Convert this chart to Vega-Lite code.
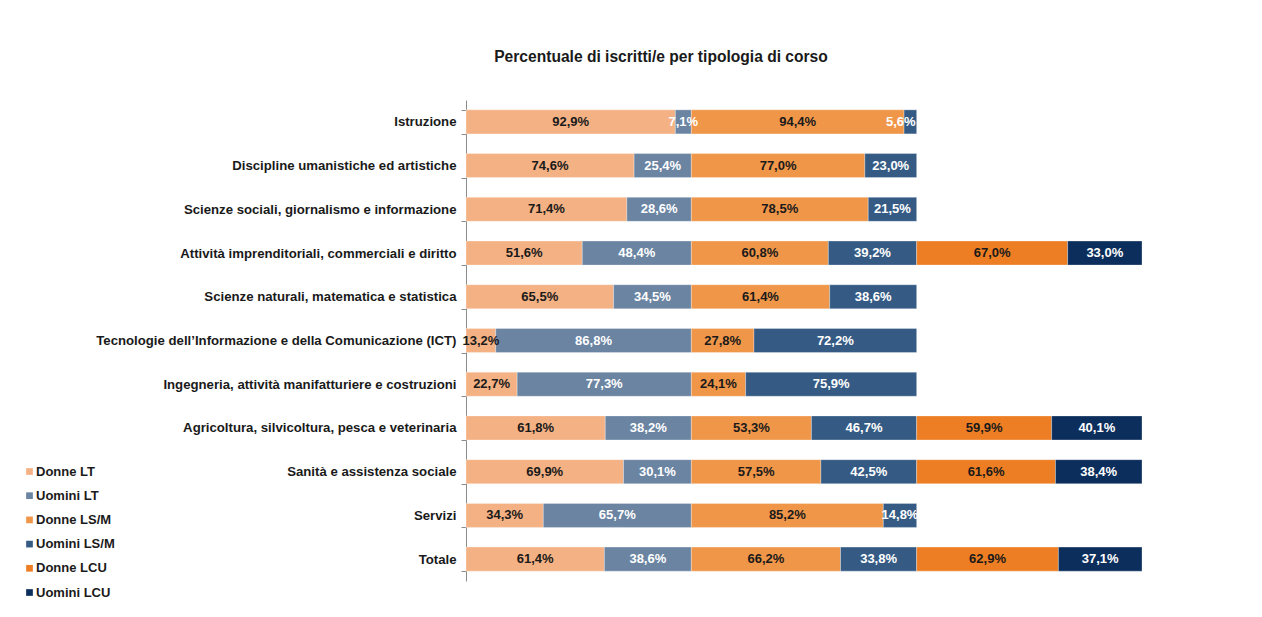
{
  "$schema": "https://vega.github.io/schema/vega-lite/v6.json",
  "width": 676,
  "height": 481,
  "autosize": {"type": "none"},
  "padding": {"left": 466, "top": 100, "right": 120, "bottom": 36},
  "background": "white",
  "config": {"view": {"stroke": null}},
  "title": {
    "text": "Percentuale di iscritti/e per tipologia di corso",
    "font": "Liberation Sans",
    "fontSize": 15.6,
    "fontWeight": "bold",
    "color": "#1a1a1a",
    "anchor": "middle",
    "frame": "group",
    "dx": -143,
    "offset": 27
  },
  "data": {
    "values": [
      {"corso": "Istruzione", "serie": "Donne LT", "valore": 92.9},
      {"corso": "Istruzione", "serie": "Uomini LT", "valore": 7.1},
      {"corso": "Istruzione", "serie": "Donne LS/M", "valore": 94.4},
      {"corso": "Istruzione", "serie": "Uomini LS/M", "valore": 5.6},
      {"corso": "Discipline umanistiche ed artistiche", "serie": "Donne LT", "valore": 74.6},
      {"corso": "Discipline umanistiche ed artistiche", "serie": "Uomini LT", "valore": 25.4},
      {"corso": "Discipline umanistiche ed artistiche", "serie": "Donne LS/M", "valore": 77.0},
      {"corso": "Discipline umanistiche ed artistiche", "serie": "Uomini LS/M", "valore": 23.0},
      {"corso": "Scienze sociali, giornalismo e informazione", "serie": "Donne LT", "valore": 71.4},
      {"corso": "Scienze sociali, giornalismo e informazione", "serie": "Uomini LT", "valore": 28.6},
      {"corso": "Scienze sociali, giornalismo e informazione", "serie": "Donne LS/M", "valore": 78.5},
      {"corso": "Scienze sociali, giornalismo e informazione", "serie": "Uomini LS/M", "valore": 21.5},
      {"corso": "Attività imprenditoriali, commerciali e diritto", "serie": "Donne LT", "valore": 51.6},
      {"corso": "Attività imprenditoriali, commerciali e diritto", "serie": "Uomini LT", "valore": 48.4},
      {"corso": "Attività imprenditoriali, commerciali e diritto", "serie": "Donne LS/M", "valore": 60.8},
      {"corso": "Attività imprenditoriali, commerciali e diritto", "serie": "Uomini LS/M", "valore": 39.2},
      {"corso": "Attività imprenditoriali, commerciali e diritto", "serie": "Donne LCU", "valore": 67.0},
      {"corso": "Attività imprenditoriali, commerciali e diritto", "serie": "Uomini LCU", "valore": 33.0},
      {"corso": "Scienze naturali, matematica e statistica", "serie": "Donne LT", "valore": 65.5},
      {"corso": "Scienze naturali, matematica e statistica", "serie": "Uomini LT", "valore": 34.5},
      {"corso": "Scienze naturali, matematica e statistica", "serie": "Donne LS/M", "valore": 61.4},
      {"corso": "Scienze naturali, matematica e statistica", "serie": "Uomini LS/M", "valore": 38.6},
      {"corso": "Tecnologie dell’Informazione e della Comunicazione (ICT)", "serie": "Donne LT", "valore": 13.2},
      {"corso": "Tecnologie dell’Informazione e della Comunicazione (ICT)", "serie": "Uomini LT", "valore": 86.8},
      {"corso": "Tecnologie dell’Informazione e della Comunicazione (ICT)", "serie": "Donne LS/M", "valore": 27.8},
      {"corso": "Tecnologie dell’Informazione e della Comunicazione (ICT)", "serie": "Uomini LS/M", "valore": 72.2},
      {"corso": "Ingegneria, attività manifatturiere e costruzioni", "serie": "Donne LT", "valore": 22.7},
      {"corso": "Ingegneria, attività manifatturiere e costruzioni", "serie": "Uomini LT", "valore": 77.3},
      {"corso": "Ingegneria, attività manifatturiere e costruzioni", "serie": "Donne LS/M", "valore": 24.1},
      {"corso": "Ingegneria, attività manifatturiere e costruzioni", "serie": "Uomini LS/M", "valore": 75.9},
      {"corso": "Agricoltura, silvicoltura, pesca e veterinaria", "serie": "Donne LT", "valore": 61.8},
      {"corso": "Agricoltura, silvicoltura, pesca e veterinaria", "serie": "Uomini LT", "valore": 38.2},
      {"corso": "Agricoltura, silvicoltura, pesca e veterinaria", "serie": "Donne LS/M", "valore": 53.3},
      {"corso": "Agricoltura, silvicoltura, pesca e veterinaria", "serie": "Uomini LS/M", "valore": 46.7},
      {"corso": "Agricoltura, silvicoltura, pesca e veterinaria", "serie": "Donne LCU", "valore": 59.9},
      {"corso": "Agricoltura, silvicoltura, pesca e veterinaria", "serie": "Uomini LCU", "valore": 40.1},
      {"corso": "Sanità e assistenza sociale", "serie": "Donne LT", "valore": 69.9},
      {"corso": "Sanità e assistenza sociale", "serie": "Uomini LT", "valore": 30.1},
      {"corso": "Sanità e assistenza sociale", "serie": "Donne LS/M", "valore": 57.5},
      {"corso": "Sanità e assistenza sociale", "serie": "Uomini LS/M", "valore": 42.5},
      {"corso": "Sanità e assistenza sociale", "serie": "Donne LCU", "valore": 61.6},
      {"corso": "Sanità e assistenza sociale", "serie": "Uomini LCU", "valore": 38.4},
      {"corso": "Servizi", "serie": "Donne LT", "valore": 34.3},
      {"corso": "Servizi", "serie": "Uomini LT", "valore": 65.7},
      {"corso": "Servizi", "serie": "Donne LS/M", "valore": 85.2},
      {"corso": "Servizi", "serie": "Uomini LS/M", "valore": 14.8},
      {"corso": "Totale", "serie": "Donne LT", "valore": 61.4},
      {"corso": "Totale", "serie": "Uomini LT", "valore": 38.6},
      {"corso": "Totale", "serie": "Donne LS/M", "valore": 66.2},
      {"corso": "Totale", "serie": "Uomini LS/M", "valore": 33.8},
      {"corso": "Totale", "serie": "Donne LCU", "valore": 62.9},
      {"corso": "Totale", "serie": "Uomini LCU", "valore": 37.1}
    ]
  },
  "transform": [
    {"calculate": "indexof(['Donne LT','Uomini LT','Donne LS/M','Uomini LS/M','Donne LCU','Uomini LCU'], datum.serie)", "as": "ord"},
    {"stack": "valore", "groupby": ["corso"], "sort": [{"field": "ord", "order": "ascending"}], "as": ["x0", "x1"]},
    {"calculate": "(datum.x0 + datum.x1) / 2", "as": "xm"},
    {"calculate": "replace(format(datum.valore, '.1f'), '.', ',') + '%'", "as": "lab"}
  ],
  "encoding": {
    "y": {
      "field": "corso",
      "type": "nominal",
      "sort": [
        "Istruzione",
        "Discipline umanistiche ed artistiche",
        "Scienze sociali, giornalismo e informazione",
        "Attività imprenditoriali, commerciali e diritto",
        "Scienze naturali, matematica e statistica",
        "Tecnologie dell’Informazione e della Comunicazione (ICT)",
        "Ingegneria, attività manifatturiere e costruzioni",
        "Agricoltura, silvicoltura, pesca e veterinaria",
        "Sanità e assistenza sociale",
        "Servizi",
        "Totale"
      ],
      "scale": {"paddingInner": 0.45, "paddingOuter": 0.225},
      "axis": {
        "title": null,
        "domainColor": "#8c8c8c",
        "tickColor": "#8c8c8c",
        "tickBand": "extent",
        "tickSize": 5,
        "labelFont": "Liberation Sans",
        "labelFontSize": 13.2,
        "labelFontWeight": "bold",
        "labelColor": "#1a1a1a",
        "labelPadding": 5,
        "labelLimit": 500
      }
    }
  },
  "layer": [
    {
      "mark": {"type": "bar", "stroke": "#ffffff", "strokeOpacity": 0.5, "strokeWidth": 0.6},
      "encoding": {
        "x": {"field": "x0", "type": "quantitative", "scale": {"domain": [0, 300], "nice": false}, "axis": null},
        "x2": {"field": "x1"},
        "color": {
          "field": "serie",
          "type": "nominal",
          "scale": {
            "domain": ["Donne LT", "Uomini LT", "Donne LS/M", "Uomini LS/M", "Donne LCU", "Uomini LCU"],
            "range": ["#F4B183", "#6A84A2", "#F09649", "#355B85", "#EE7E23", "#0C2E5C"]
          },
          "legend": {
            "title": null,
            "orient": "none",
            "legendX": -443,
            "legendY": 365,
            "symbolType": "square",
            "symbolSize": 45,
            "symbolStrokeWidth": 0,
            "labelFont": "Liberation Sans",
            "labelFontSize": 13,
            "labelFontWeight": "bold",
            "labelColor": "#1a1a1a",
            "labelOffset": 0,
            "rowPadding": 10.2
          }
        }
      }
    },
    {
      "transform": [{"filter": "datum.valore >= 6"}],
      "mark": {"type": "text", "font": "Liberation Sans", "fontSize": 13, "fontWeight": "bold"},
      "encoding": {
        "x": {"field": "xm", "type": "quantitative"},
        "text": {"field": "lab"},
        "color": {
          "condition": {"test": "indexof(datum.serie, 'Donne') == 0", "value": "#1a1a1a"},
          "value": "#ffffff"
        }
      }
    },
    {
      "transform": [{"filter": "datum.valore < 6"}],
      "mark": {"type": "text", "font": "Liberation Sans", "fontSize": 13, "fontWeight": "bold", "align": "right", "dx": -1},
      "encoding": {
        "x": {"field": "x1", "type": "quantitative"},
        "text": {"field": "lab"},
        "color": {"value": "#ffffff"}
      }
    }
  ]
}
